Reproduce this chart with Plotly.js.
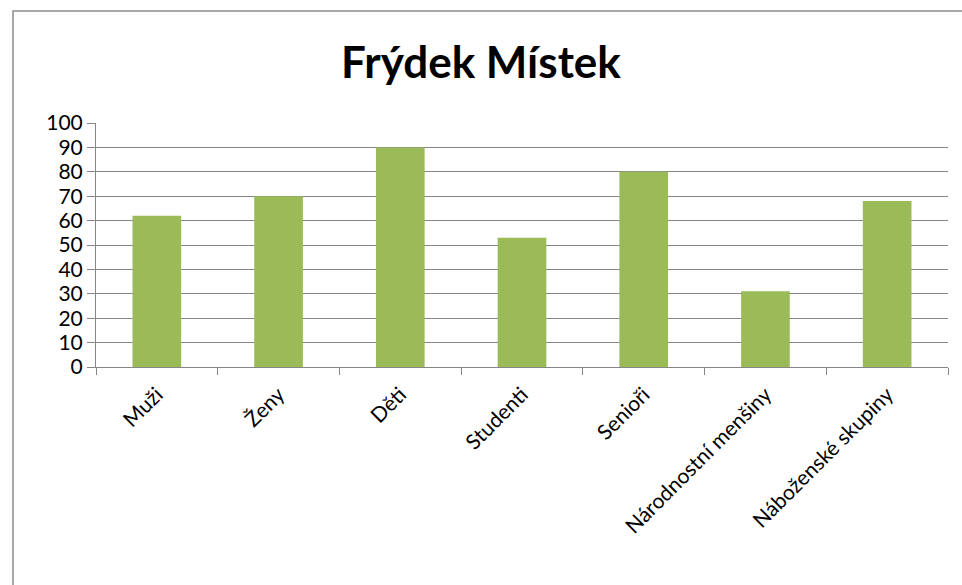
<!DOCTYPE html>
<html>
<head>
<meta charset="utf-8">
<script src="https://cdn.plot.ly/plotly-3.0.1.min.js"></script>
<style>
html,body{margin:0;padding:0;background:#fff;}
#chart{width:962px;height:585px;}
</style>
</head>
<body>
<div id="chart"></div>
<script>
const categories = ["Muži", "Ženy", "Děti", "Studenti", "Senioři", "Národnostní menšiny", "Náboženské skupiny"];
const values = [62, 70, 90, 53, 80, 31, 68];
const yTicks = [0, 10, 20, 30, 40, 50, 60, 70, 80, 90, 100];
const chartTitle = "Frýdek Místek";

const trace = {
  type: "bar",
  x: categories,
  y: values,
  marker: {color: "#9BBB59"},
  hoverinfo: "x+y"
};

const layout = {
  width: 962,
  height: 585,
  margin: {l: 96, r: 14, t: 123, b: 218},
  paper_bgcolor: "#ffffff",
  plot_bgcolor: "#ffffff",
  showlegend: false,
  bargap: 0.6,
  font: {family: "Lato, 'Open Sans', sans-serif", color: "#000000", size: 21},
  title: {
    text: "<b>" + chartTitle + "</b>",
    font: {family: "Lato, 'Open Sans', sans-serif", size: 44, color: "#000000"},
    x: 0.5,
    xanchor: "center",
    y: 0.893,
    yanchor: "middle"
  },
  xaxis: {
    type: "category",
    tickangle: -45,
    ticks: "outside",
    tickson: "boundaries",
    ticklen: 7,
    tickcolor: "#868686",
    showline: true,
    linecolor: "#868686",
    linewidth: 1,
    showgrid: false,
    ticklabelstandoff: 6,
    tickfont: {size: 21, family: "Lato, 'Open Sans', sans-serif"},
    fixedrange: true
  },
  yaxis: {
    range: [0, 100],
    tickvals: yTicks,
    ticktext: yTicks.map(String),
    ticks: "outside",
    ticklen: 8,
    tickcolor: "#868686",
    showline: true,
    linecolor: "#868686",
    linewidth: 1,
    showgrid: true,
    gridcolor: "#868686",
    gridwidth: 1,
    zeroline: false,
    tickfont: {size: 21, family: "Lato, 'Open Sans', sans-serif"},
    fixedrange: true
  },
  shapes: [{
    type: "rect",
    xref: "paper", yref: "paper",
    x0: -0.0974, x1: 1.2,
    y0: -1.5, y1: 1.459,
    line: {color: "#8c8c8c", width: 1.5},
    fillcolor: "rgba(0,0,0,0)",
    layer: "below"
  }]
};

Plotly.newPlot("chart", [trace], layout, {displayModeBar: false, staticPlot: true});
</script>
</body>
</html>
